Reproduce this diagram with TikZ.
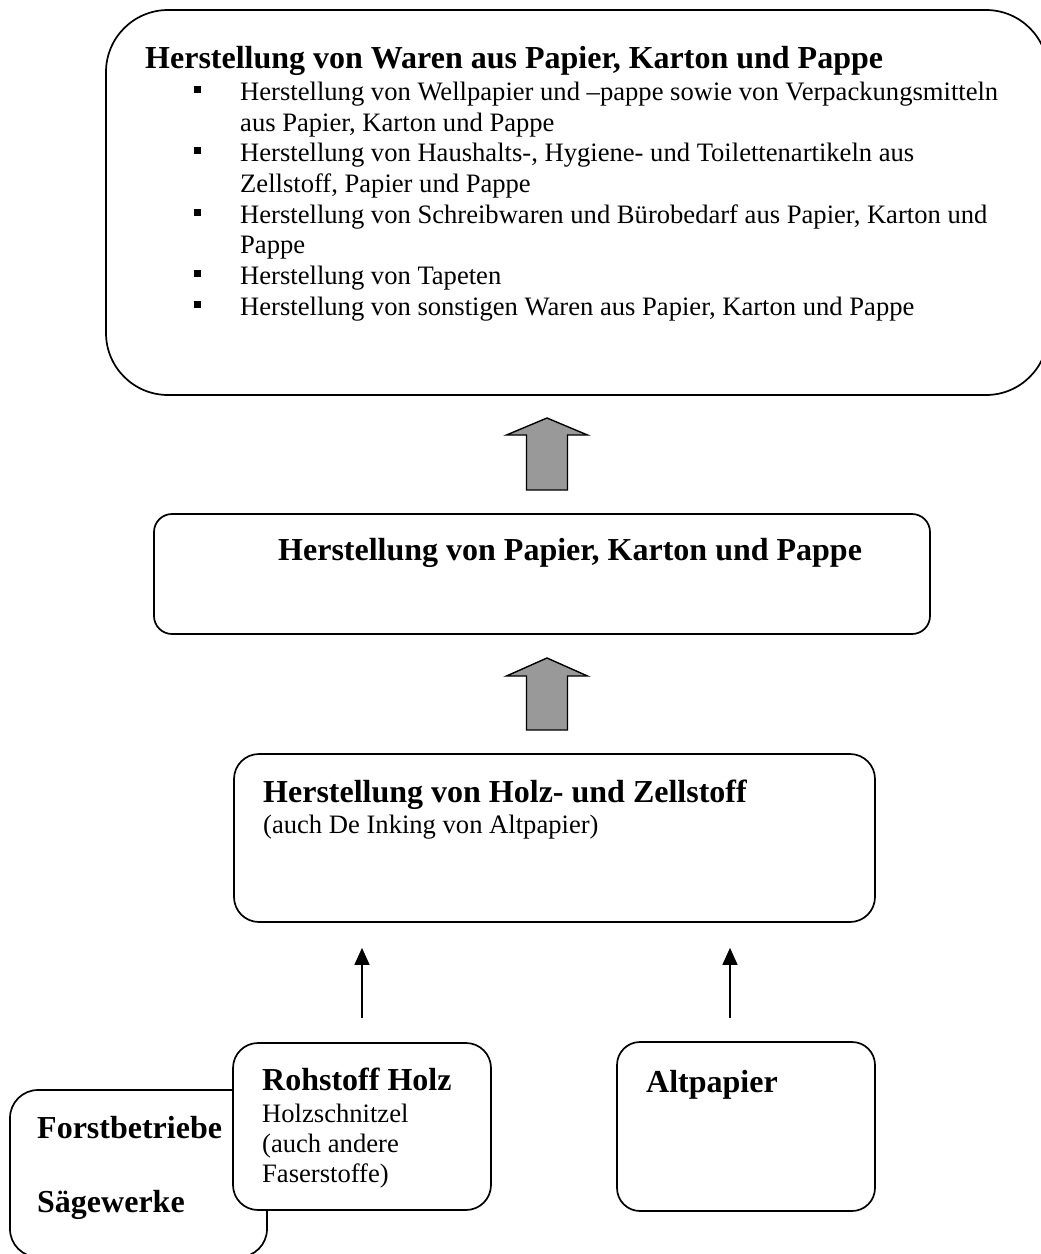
\documentclass[tikz,border=0pt]{standalone}
\usepackage{fontspec}
\setmainfont{Liberation Serif}
\usetikzlibrary{arrows.meta,calc}
\begin{document}
\begin{tikzpicture}[x=1pt,y=-1pt,
  box/.style={draw=black,line width=1.7pt,fill=white,rectangle,inner sep=0pt},
  txt/.style={anchor=base west,inner sep=0pt,font=\fontsize{26.6}{30.6}\selectfont},
  btxt/.style={anchor=base west,inner sep=0pt,font=\fontsize{32}{36}\selectfont\bfseries},
  bul/.style={fill=black,draw=none,rectangle,minimum size=7pt,inner sep=0pt},
  blockarrow/.style={draw=black,line width=1.4pt,fill={rgb,255:red,153;green,153;blue,153},line join=miter},
  thin/.style={line width=1.5pt,-{Triangle[length=17pt,width=15pt]}}]
\useasboundingbox (0,0) rectangle (1041,1254);
\begin{scope}
\clip (0,0) rectangle (1041,1254);
% top box
\node[box,rounded corners=62pt,minimum width=942pt,minimum height=385pt] (top) at (577,202.5) {};
\node[btxt] (h0) at (145,68) {Herstellung von Waren aus Papier, Karton und Pappe};
\node[txt] (l1) at (240,100) {Herstellung von Wellpapier und –pappe sowie von Verpackungsmitteln};
\node[txt] (l2) at (240,131) {aus Papier, Karton und Pappe};
\node[txt] (l3) at (240,161) {Herstellung von Haushalts-, Hygiene- und Toilettenartikeln aus};
\node[txt] (l4) at (240,192) {Zellstoff, Papier und Pappe};
\node[txt] (l5) at (240,223) {Herstellung von Schreibwaren und Bürobedarf aus Papier, Karton und};
\node[txt] (l6) at (240,253) {Pappe};
\node[txt] (l7) at (240,284) {Herstellung von Tapeten};
\node[txt] (l8) at (240,315) {Herstellung von sonstigen Waren aus Papier, Karton und Pappe};
\node[bul] (b1) at (197,89) {};
\node[bul] (b2) at (197,150) {};
\node[bul] (b3) at (197,212) {};
\node[bul] (b4) at (197,273) {};
\node[bul] (b5) at (197,304) {};
% middle box
\node[box,rounded corners=18pt,minimum width=776pt,minimum height=120pt] (mid) at (542,574) {};
\node[btxt] (midt) at (278,560) {Herstellung von Papier, Karton und Pappe};
% box 3
\node[box,rounded corners=25pt,minimum width=641pt,minimum height=168pt] (pulp) at (554.5,838) {};
\node[btxt] (pulpt) at (263,802) {Herstellung von Holz- und Zellstoff};
\node[txt] (pulps) at (263,833) {(auch De Inking von Altpapier)};
% bottom boxes
\node[box,rounded corners=28pt,minimum width=257pt,minimum height=167pt] (forst) at (138.5,1173.5) {};
\node[btxt] (forst1) at (37,1138) {Forstbetriebe};
\node[btxt] (forst2) at (37,1212) {Sägewerke};
\node[box,rounded corners=25pt,minimum width=258pt,minimum height=167pt] (holz) at (362,1126.5) {};
\node[btxt] (holzt) at (262,1090) {Rohstoff Holz};
\node[txt] (holz1) at (262,1122) {Holzschnitzel};
\node[txt] (holz2) at (262,1152) {(auch andere};
\node[txt] (holz3) at (262,1182) {Faserstoffe)};
\node[box,rounded corners=23pt,minimum width=258pt,minimum height=169pt] (alt) at (746,1126.5) {};
\node[btxt] (altt) at (646,1092) {Altpapier};
% thin arrows
\draw[thin,shorten <=24pt,shorten >=25pt] (holz.north) -- (holz.north |- pulp.south);
\draw[thin,shorten <=23pt,shorten >=25pt] ([xshift=-16pt]alt.north) -- ([xshift=-16pt]alt.north |- pulp.south);
% block arrows
\coordinate (a1) at (547,490);
\draw[blockarrow] (a1) ++(-20.5,0) -- ++(0,-55) -- ++(-20,0) -- (547,418) -- (587.5,435) -- (567.5,435) -- (567.5,490) -- cycle;
\coordinate (a2) at (547,730);
\draw[blockarrow] (a2) ++(-20.5,0) -- ++(0,-54) -- ++(-20,0) -- (547,658) -- (587.5,676) -- (567.5,676) -- (567.5,730) -- cycle;
\end{scope}
\end{tikzpicture}
\end{document}
